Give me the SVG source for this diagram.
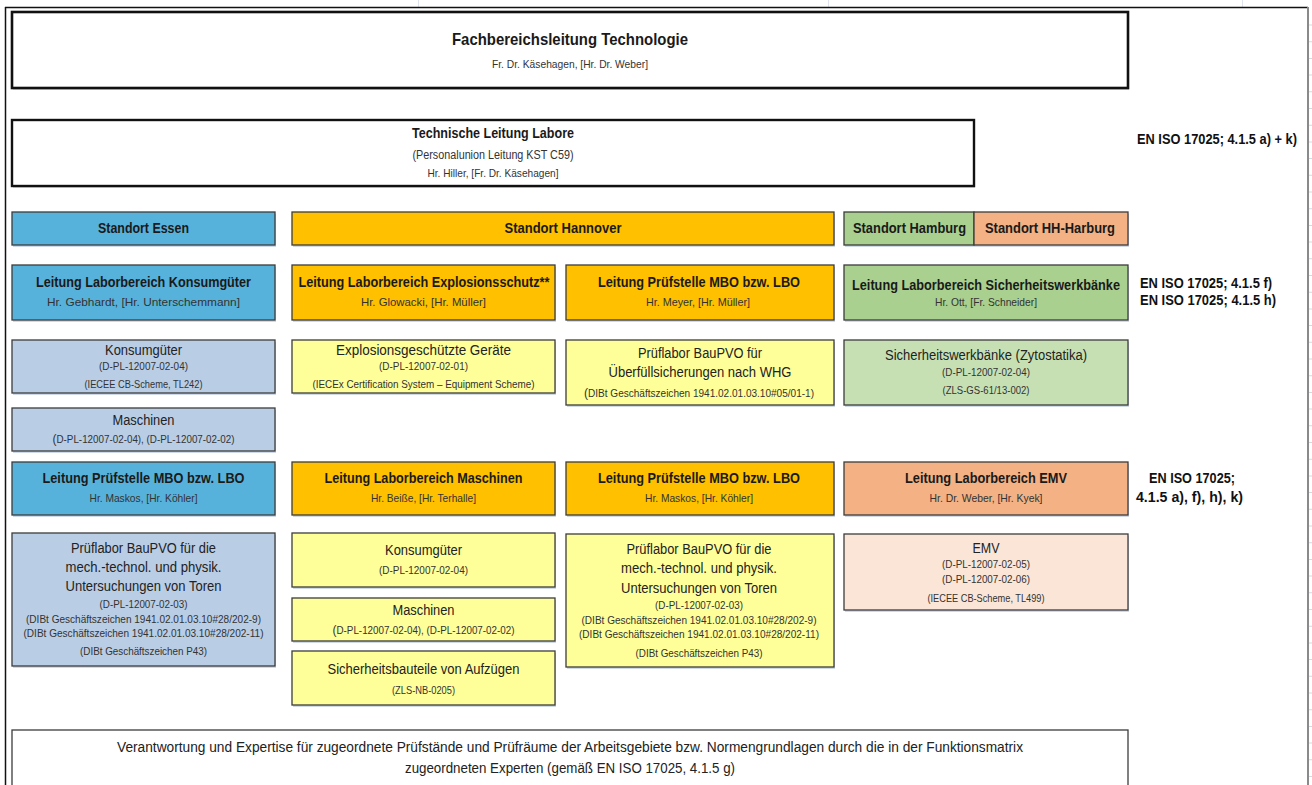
<svg xmlns="http://www.w3.org/2000/svg" width="1312" height="785" viewBox="0 0 1312 785">
<style>
.t{font-family:"Liberation Sans",Arial,sans-serif;text-anchor:middle;fill:#1a1a1a}
.h{font-weight:bold;font-size:14.4px}
.m{font-size:14px;fill:#222}
.s{font-size:10.7px;fill:#333}
.r{font-family:"Liberation Sans",Arial,sans-serif;font-weight:bold;font-size:14.4px;fill:#111}
.b{stroke:#3c3c3c;stroke-width:1.3}
.sh{fill:#cfd9ea}
.blue{fill:#57B2DB}.org{fill:#FFC000}.grn{fill:#A9D08E}.sal{fill:#F4B183}
.lblue{fill:#B9CDE5}.lyel{fill:#FFFF99}.lgrn{fill:#C6E0B4}.lsal{fill:#FBE5D6}
.wh{fill:#fff}
.bp{font-size:13px}
</style>
<rect width="1312" height="785" fill="#fff"/>
<g id="sheet">
<path d="M418.5 0V7M828.5 0V7M1242.5 0V7" stroke="#dfe3ec" stroke-width="1"/>
<line x1="1310.5" y1="24.5" x2="1310.5" y2="785" stroke="#d5d9e2" stroke-width="3" stroke-dasharray="1 15.7"/>
<path d="M5 7.5H1308M5.5 7V785" stroke="#111" stroke-width="1.5" fill="none"/>
<line x1="1308" y1="7" x2="1308" y2="785" stroke="#8a8a8a" stroke-width="2"/>
</g>
<g id="fachbereichsleitung">
<rect x="13" y="14" width="1116" height="76" class="sh"/>
<rect x="12" y="12" width="1116" height="76" class="wh" stroke="#111" stroke-width="2.6"/>
<text class="t" x="570" y="45" style="font-weight:bold;font-size:16.5px" textLength="236" lengthAdjust="spacingAndGlyphs">Fachbereichsleitung Technologie</text>
<text class="t s" x="570" y="68" textLength="156" lengthAdjust="spacingAndGlyphs">Fr. Dr. Käsehagen, [Hr. Dr. Weber]</text>
</g>
<g id="technische-leitung">
<rect x="13" y="122" width="962" height="66" class="sh"/>
<rect x="12" y="120" width="962" height="66" class="wh" stroke="#111" stroke-width="2.4"/>
<text class="t h" x="493" y="138" textLength="162" lengthAdjust="spacingAndGlyphs">Technische Leitung Labore</text>
<text class="t" x="493" y="159" style="font-size:12px;fill:#333" textLength="161" lengthAdjust="spacingAndGlyphs">(Personalunion Leitung KST C59)</text>
<text class="t s" x="493" y="177" textLength="131" lengthAdjust="spacingAndGlyphs">Hr. Hiller, [Fr. Dr. Käsehagen]</text>
</g>
<g id="norm-labels">
<text class="r" transform="translate(1137 144) scale(0.76 1)" x="0" y="0" textLength="210.5" lengthAdjust="spacingAndGlyphs">EN ISO 17025; 4.1.5 a) + k)</text>
<text class="r" x="1140" y="288" textLength="132" lengthAdjust="spacingAndGlyphs">EN ISO 17025; 4.1.5 f)</text>
<text class="r" x="1140" y="305" textLength="136" lengthAdjust="spacingAndGlyphs">EN ISO 17025; 4.1.5 h)</text>
<text class="r" x="1149" y="483" textLength="86" lengthAdjust="spacingAndGlyphs">EN ISO 17025;</text>
<text class="r" x="1136" y="502" textLength="107" lengthAdjust="spacingAndGlyphs">4.1.5 a), f), h), k)</text>
</g>
<g id="standort-essen">
<rect x="13" y="214" width="263" height="33" class="sh"/>
<rect x="12" y="212" width="263" height="33" class="blue b"/>
<text class="t h" x="143.5" y="233" textLength="91" lengthAdjust="spacingAndGlyphs">Standort Essen</text>
</g>
<g id="standort-hannover">
<rect x="293" y="214" width="542" height="33" class="sh"/>
<rect x="292" y="212" width="542" height="33" class="org b"/>
<text class="t h" x="563" y="233" textLength="117" lengthAdjust="spacingAndGlyphs">Standort Hannover</text>
</g>
<g id="standort-hamburg">
<rect x="845" y="214" width="284" height="33" class="sh"/>
<rect x="844" y="212" width="130" height="33" class="grn b"/>
<text class="t h" x="909.5" y="233" textLength="113" lengthAdjust="spacingAndGlyphs">Standort Hamburg</text>
</g>
<g id="standort-hh-harburg">
<rect x="974" y="212" width="154" height="33" class="sal b"/>
<text class="t h" x="1050" y="233" textLength="130" lengthAdjust="spacingAndGlyphs">Standort HH-Harburg</text>
</g>
<g id="leitung-konsumgueter">
<rect x="13" y="267" width="263" height="55" class="sh"/>
<rect x="12" y="265" width="263" height="55" class="blue b"/>
<text class="t h" x="143.5" y="287" textLength="215" lengthAdjust="spacingAndGlyphs">Leitung Laborbereich Konsumgüter</text>
<text class="t s" x="143.5" y="306" textLength="193" lengthAdjust="spacingAndGlyphs">Hr. Gebhardt, [Hr. Unterschemmann]</text>
</g>
<g id="leitung-explosionsschutz">
<rect x="293" y="267" width="263" height="55" class="sh"/>
<rect x="292" y="265" width="263" height="55" class="org b"/>
<text class="t h" x="424" y="287" textLength="251" lengthAdjust="spacingAndGlyphs">Leitung Laborbereich Explosionsschutz**</text>
<text class="t s" x="423.5" y="306" textLength="125" lengthAdjust="spacingAndGlyphs">Hr. Glowacki, [Hr. Müller]</text>
</g>
<g id="leitung-pruefstelle-meyer">
<rect x="567" y="267" width="268" height="55" class="sh"/>
<rect x="566" y="265" width="268" height="55" class="org b"/>
<text class="t h" x="699" y="287" textLength="202" lengthAdjust="spacingAndGlyphs">Leitung Prüfstelle MBO bzw. LBO</text>
<text class="t s" x="698" y="306" textLength="104" lengthAdjust="spacingAndGlyphs">Hr. Meyer, [Hr. Müller]</text>
</g>
<g id="leitung-sicherheitswerkbaenke">
<rect x="845" y="267" width="284" height="55" class="sh"/>
<rect x="844" y="265" width="284" height="55" class="grn b"/>
<text class="t h" x="986" y="290" textLength="268" lengthAdjust="spacingAndGlyphs">Leitung Laborbereich Sicherheitswerkbänke</text>
<text class="t s" x="986" y="306" textLength="102" lengthAdjust="spacingAndGlyphs">Hr. Ott, [Fr. Schneider]</text>
</g>
<g id="konsumgueter-essen">
<rect x="13" y="342" width="263" height="53" class="sh"/>
<rect x="12" y="340" width="263" height="53" class="lblue b"/>
<text class="t m" x="143.5" y="355" textLength="77" lengthAdjust="spacingAndGlyphs">Konsumgüter</text>
<text class="t s" x="143.5" y="370" textLength="89" lengthAdjust="spacingAndGlyphs">(D-PL-12007-02-04)</text>
<text class="t s" x="143.5" y="388" textLength="118" lengthAdjust="spacingAndGlyphs">(IECEE CB-Scheme, TL242)</text>
</g>
<g id="explosionsgeschuetzte-geraete">
<rect x="293" y="342" width="263" height="53" class="sh"/>
<rect x="292" y="340" width="263" height="53" class="lyel b"/>
<text class="t m" x="423.5" y="355" textLength="175" lengthAdjust="spacingAndGlyphs">Explosionsgeschützte Geräte</text>
<text class="t s" x="423.5" y="370" textLength="89" lengthAdjust="spacingAndGlyphs">(D-PL-12007-02-01)</text>
<text class="t s" x="423.5" y="388" textLength="222" lengthAdjust="spacingAndGlyphs">(IECEx Certification System – Equipment Scheme)</text>
</g>
<g id="prueflabor-whg">
<rect x="567" y="342" width="268" height="65" class="sh"/>
<rect x="566" y="340" width="268" height="65" class="lyel b"/>
<text class="t m" x="700" y="358" textLength="124" lengthAdjust="spacingAndGlyphs">Prüflabor BauPVO für</text>
<text class="t m" x="700" y="377" textLength="183" lengthAdjust="spacingAndGlyphs">Überfüllsicherungen nach WHG</text>
<text class="t s" x="699" y="397" textLength="230" lengthAdjust="spacingAndGlyphs"><tspan class="bp">(</tspan>DIBt Geschäftszeichen 1941.02.01.03.10#05/01-1)</text>
</g>
<g id="sicherheitswerkbaenke">
<rect x="845" y="342" width="284" height="65" class="sh"/>
<rect x="844" y="340" width="284" height="65" class="lgrn b"/>
<text class="t m" x="986" y="360" textLength="202" lengthAdjust="spacingAndGlyphs">Sicherheitswerkbänke (Zytostatika)</text>
<text class="t s" x="986" y="376" textLength="88" lengthAdjust="spacingAndGlyphs">(D-PL-12007-02-04)</text>
<text class="t s" x="986" y="394" textLength="87" lengthAdjust="spacingAndGlyphs">(ZLS-GS-61/13-002)</text>
</g>
<g id="maschinen-essen">
<rect x="13" y="410" width="263" height="43" class="sh"/>
<rect x="12" y="408" width="263" height="43" class="lblue b"/>
<text class="t m" x="143.5" y="425" textLength="62" lengthAdjust="spacingAndGlyphs">Maschinen</text>
<text class="t s" x="143.5" y="443" textLength="182" lengthAdjust="spacingAndGlyphs"><tspan class="bp">(</tspan>D-PL-12007-02-04), (D-PL-12007-02-02)</text>
</g>
<g id="leitung-pruefstelle-essen">
<rect x="13" y="464" width="263" height="53" class="sh"/>
<rect x="12" y="462" width="263" height="53" class="blue b"/>
<text class="t h" x="143.5" y="483" textLength="202" lengthAdjust="spacingAndGlyphs">Leitung Prüfstelle MBO bzw. LBO</text>
<text class="t s" x="143.5" y="502" textLength="108" lengthAdjust="spacingAndGlyphs">Hr. Maskos, [Hr. Köhler]</text>
</g>
<g id="leitung-maschinen">
<rect x="293" y="464" width="263" height="53" class="sh"/>
<rect x="292" y="462" width="263" height="53" class="org b"/>
<text class="t h" x="423.5" y="483" textLength="198" lengthAdjust="spacingAndGlyphs">Leitung Laborbereich Maschinen</text>
<text class="t s" x="423.5" y="502" textLength="105" lengthAdjust="spacingAndGlyphs">Hr. Beiße, [Hr. Terhalle]</text>
</g>
<g id="leitung-pruefstelle-hannover">
<rect x="567" y="464" width="268" height="53" class="sh"/>
<rect x="566" y="462" width="268" height="53" class="org b"/>
<text class="t h" x="699" y="483" textLength="202" lengthAdjust="spacingAndGlyphs">Leitung Prüfstelle MBO bzw. LBO</text>
<text class="t s" x="699" y="502" textLength="108" lengthAdjust="spacingAndGlyphs">Hr. Maskos, [Hr. Köhler]</text>
</g>
<g id="leitung-emv">
<rect x="845" y="464" width="284" height="53" class="sh"/>
<rect x="844" y="462" width="284" height="53" class="sal b"/>
<text class="t h" x="986" y="483" textLength="162" lengthAdjust="spacingAndGlyphs">Leitung Laborbereich EMV</text>
<text class="t s" x="986" y="502" textLength="113" lengthAdjust="spacingAndGlyphs">Hr. Dr. Weber, [Hr. Kyek]</text>
</g>
<g id="prueflabor-tore-essen">
<rect x="13" y="535" width="263" height="133" class="sh"/>
<rect x="12" y="533" width="263" height="133" class="lblue b"/>
<text class="t m" x="143.5" y="553" textLength="145" lengthAdjust="spacingAndGlyphs">Prüflabor BauPVO für die</text>
<text class="t m" x="143.5" y="572" textLength="156" lengthAdjust="spacingAndGlyphs">mech.-technol. und physik.</text>
<text class="t m" x="143.5" y="591" textLength="156" lengthAdjust="spacingAndGlyphs">Untersuchungen von Toren</text>
<text class="t s" x="143.5" y="608" textLength="88" lengthAdjust="spacingAndGlyphs">(D-PL-12007-02-03)</text>
<text class="t s" x="143.5" y="623" textLength="235" lengthAdjust="spacingAndGlyphs">(DIBt Geschäftszeichen 1941.02.01.03.10#28/202-9)</text>
<text class="t s" x="143.5" y="637" textLength="240" lengthAdjust="spacingAndGlyphs">(DIBt Geschäftszeichen 1941.02.01.03.10#28/202-11)</text>
<text class="t s" x="143.5" y="655" textLength="127" lengthAdjust="spacingAndGlyphs">(DIBt Geschäftszeichen P43)</text>
</g>
<g id="konsumgueter-hannover">
<rect x="293" y="535" width="263" height="54" class="sh"/>
<rect x="292" y="533" width="263" height="54" class="lyel b"/>
<text class="t m" x="423.5" y="555" textLength="77" lengthAdjust="spacingAndGlyphs">Konsumgüter</text>
<text class="t s" x="423.5" y="574" textLength="89" lengthAdjust="spacingAndGlyphs">(D-PL-12007-02-04)</text>
</g>
<g id="maschinen-hannover">
<rect x="293" y="600" width="263" height="43" class="sh"/>
<rect x="292" y="598" width="263" height="43" class="lyel b"/>
<text class="t m" x="423.5" y="615" textLength="62" lengthAdjust="spacingAndGlyphs">Maschinen</text>
<text class="t s" x="423.5" y="634" textLength="182" lengthAdjust="spacingAndGlyphs"><tspan class="bp">(</tspan>D-PL-12007-02-04), (D-PL-12007-02-02)</text>
</g>
<g id="sicherheitsbauteile-aufzuege">
<rect x="293" y="653" width="263" height="54" class="sh"/>
<rect x="292" y="651" width="263" height="54" class="lyel b"/>
<text class="t m" x="423.5" y="674" textLength="192" lengthAdjust="spacingAndGlyphs">Sicherheitsbauteile von Aufzügen</text>
<text class="t s" x="423.5" y="694" textLength="63" lengthAdjust="spacingAndGlyphs">(ZLS-NB-0205)</text>
</g>
<g id="prueflabor-tore-hannover">
<rect x="567" y="536" width="268" height="133" class="sh"/>
<rect x="566" y="534" width="268" height="133" class="lyel b"/>
<text class="t m" x="699" y="554" textLength="145" lengthAdjust="spacingAndGlyphs">Prüflabor BauPVO für die</text>
<text class="t m" x="699" y="573" textLength="156" lengthAdjust="spacingAndGlyphs">mech.-technol. und physik.</text>
<text class="t m" x="699" y="593" textLength="156" lengthAdjust="spacingAndGlyphs">Untersuchungen von Toren</text>
<text class="t s" x="699" y="609" textLength="88" lengthAdjust="spacingAndGlyphs">(D-PL-12007-02-03)</text>
<text class="t s" x="699" y="624" textLength="235" lengthAdjust="spacingAndGlyphs">(DIBt Geschäftszeichen 1941.02.01.03.10#28/202-9)</text>
<text class="t s" x="699" y="638" textLength="240" lengthAdjust="spacingAndGlyphs">(DIBt Geschäftszeichen 1941.02.01.03.10#28/202-11)</text>
<text class="t s" x="699" y="657" textLength="127" lengthAdjust="spacingAndGlyphs">(DIBt Geschäftszeichen P43)</text>
</g>
<g id="emv">
<rect x="845" y="536" width="284" height="76" class="sh"/>
<rect x="844" y="534" width="284" height="76" class="lsal b"/>
<text class="t m" x="986" y="553" textLength="27" lengthAdjust="spacingAndGlyphs">EMV</text>
<text class="t s" x="986" y="568" textLength="88" lengthAdjust="spacingAndGlyphs">(D-PL-12007-02-05)</text>
<text class="t s" x="986" y="583" textLength="88" lengthAdjust="spacingAndGlyphs">(D-PL-12007-02-06)</text>
<text class="t s" x="986" y="602" textLength="117" lengthAdjust="spacingAndGlyphs">(IECEE CB-Scheme, TL499)</text>
</g>
<g id="verantwortung">
<rect x="12" y="730" width="1116" height="60" class="wh b"/>
<text class="t m" x="570" y="752" textLength="906" lengthAdjust="spacingAndGlyphs">Verantwortung und Expertise für zugeordnete Prüfstände und Prüfräume der Arbeitsgebiete bzw. Normengrundlagen durch die in der Funktionsmatrix</text>
<text class="t m" x="570" y="773" textLength="330" lengthAdjust="spacingAndGlyphs">zugeordneten Experten (gemäß EN ISO 17025, 4.1.5 g)</text>
</g>
<g id="connectors"/>
</svg>
